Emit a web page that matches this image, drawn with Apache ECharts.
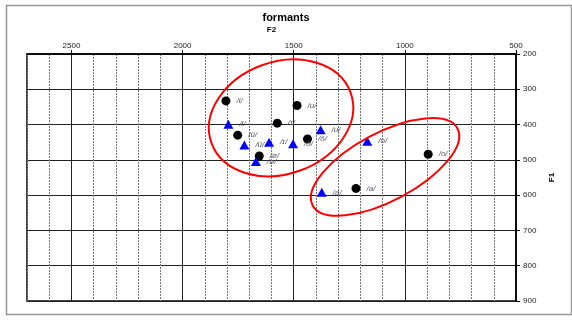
<!DOCTYPE html>
<html><head><meta charset="utf-8">
<script src="https://cdn.jsdelivr.net/npm/echarts@6/dist/echarts.min.js"></script>
<style>html,body{margin:0;padding:0;background:#fff}#c{width:572px;height:320px}</style>
</head><body><div id="c"></div>
<script>
// F2 (Hz), F1 (Hz) and labels
const blackLabels = ['/i/','/u/','/ɪ/','/ü/','/ö/','/ø/','/o/','/a/'];
const blackF2 = [1805,1485,1574,1752,1438,1655,895,1220];
const blackF1 = [333,346,396,430,441,489,484,581];
const blueLabels = ['/i/','/ü/','/ɪ/','/ö/','/u/','/o/','/a/','/ø/'];
const blueF2 = [1794,1722,1611,1503,1379,1169,1374,1670];
const blueF1 = [399,458,450,454,415,447,592,505];
const xTicks = [2500,2000,1500,1000,500];
const yTicks = [200,300,400,500,600,700,800,900];
// annotation ellipses: centre in data space (F2,F1), radii in px, tilt in degrees
const ellipseCenters = [[1557,381],[1089,520]];
const ellipseRadii = [[74,56],[82,34]];
const ellipseTilt = [20,28];

const chart = echarts.init(document.getElementById('c'), null, {renderer:'canvas'});
const lbl = {show:true, position:'right', distance:6, fontSize:8, fontStyle:'italic', color:'#555566', fontFamily:'Liberation Sans'};
const xBase = {type:'value', min:500, max:2700, inverse:true, position:'top'};
chart.setOption({
  animation:false,
  textStyle:{fontFamily:'Liberation Sans'},
  title:{text:'formants', left:'center', top:7, textStyle:{fontSize:11, fontWeight:'bold', color:'#000'}},
  grid:{left:27, right:56, top:54, bottom:19, show:true, borderColor:'#000', borderWidth:1.5},
  xAxis:[
    Object.assign({}, xBase, {interval:100, axisLine:{show:false}, axisTick:{show:false}, axisLabel:{show:false},
      splitLine:{show:true, lineStyle:{color:'#777', type:[2,1], width:1}}}),
    Object.assign({}, xBase, {interval:500, name:'F2', nameLocation:'middle', nameGap:20,
      nameTextStyle:{fontSize:8, fontWeight:'bold', color:'#000'},
      axisLine:{show:true, lineStyle:{color:'#000', width:1.5}},
      axisTick:{show:true, length:4, customValues:xTicks, lineStyle:{color:'#000'}},
      axisLabel:{fontSize:8, color:'#222', margin:4, customValues:xTicks, formatter:v => String(v)},
      splitLine:{show:true, lineStyle:{color:'#222', width:1}}})
  ],
  yAxis:{type:'value', min:200, max:900, interval:100, inverse:true, position:'right',
    name:'F1', nameLocation:'middle', nameGap:32, nameRotate:90,
    nameTextStyle:{fontSize:8, fontWeight:'bold', color:'#000'},
    axisLine:{show:true, lineStyle:{color:'#000', width:1.5}},
    axisTick:{show:true, length:4, lineStyle:{color:'#000'}},
    axisLabel:{fontSize:8, color:'#222', margin:7, formatter:v => yTicks.includes(v) ? String(v) : ''},
    splitLine:{show:true, lineStyle:{color:'#222', width:1}}},
  series:[
    {type:'scatter', xAxisIndex:1, symbol:'circle', symbolSize:9, itemStyle:{color:'#000', opacity:1}, z:5,
      data:blackF2.map((v,i)=>({value:[v,blackF1[i]], label:Object.assign({}, lbl, {formatter:blackLabels[i]})}))},
    {type:'scatter', xAxisIndex:1, symbol:'triangle', symbolSize:[10,9], itemStyle:{color:'#0000ff', opacity:1}, z:5,
      data:blueF2.map((v,i)=>({value:[v,blueF1[i]], label:Object.assign({}, lbl, {formatter:blueLabels[i]})}))}
  ]
});
function drawExtras(){
  const g = [{type:'rect', left:4, top:3, shape:{width:565, height:309}, style:{fill:'none', stroke:'#999', lineWidth:1.5}, silent:true, z:0}];
  ellipseCenters.forEach((c,i)=>{
    const p = chart.convertToPixel({xAxisIndex:1, yAxisIndex:0}, c);
    g.push({type:'ellipse', x:p[0], y:p[1], rotation:ellipseTilt[i]*Math.PI/180,
      shape:{cx:0, cy:0, rx:ellipseRadii[i][0], ry:ellipseRadii[i][1]},
      style:{fill:'none', stroke:'#ff0000', lineWidth:2}, silent:true, z:10});
  });
  chart.setOption({graphic:g});
}
drawExtras();
</script></body></html>
